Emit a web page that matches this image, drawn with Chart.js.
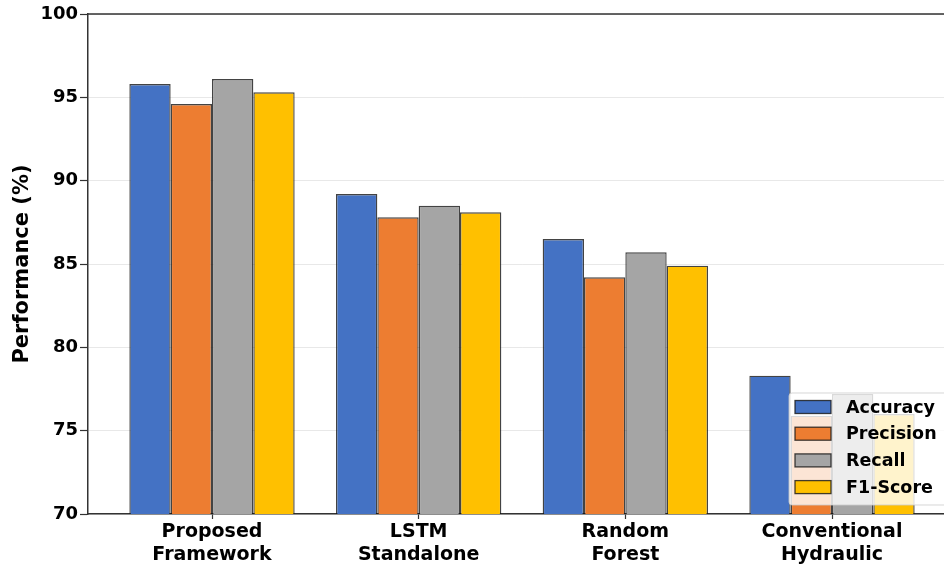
<!DOCTYPE html>
<html>
<head>
<meta charset="utf-8">
<script src="https://cdn.jsdelivr.net/npm/chart.js@4/dist/chart.umd.min.js"></script>
<style>
  html, body { margin: 0; padding: 0; background: #fff; overflow: hidden; }
  #wrap { width: 944px; height: 569px; overflow: hidden; position: relative; }
  canvas { display: block; }
</style>
</head>
<body>
<div id="wrap"><canvas id="c" width="970" height="569"></canvas></div>
<script>
// ---- data ----
const categories = ["Proposed Framework", "LSTM Standalone", "Random Forest", "Conventional Hydraulic"];
const seriesNames = ["Accuracy", "Precision", "Recall", "F1-Score"];
const accuracy  = [95.8, 89.2, 86.5, 78.3];
const precision = [94.6, 87.8, 84.2, 75.9];
const recall    = [96.1, 88.5, 85.7, 77.2];
const f1score   = [95.3, 88.1, 84.9, 76.0];
const yTicks = [70, 75, 80, 85, 90, 95, 100];

const colors = ["#4472C4", "#ED7D31", "#A5A5A5", "#FFC000"];
const FONT = "'DejaVu Sans', sans-serif";
const EDGE = "rgba(20,20,20,0.8)";
const seriesValues = [accuracy, precision, recall, f1score];

const datasets = seriesValues.map((vals, k) => ({
  label: seriesNames[k],
  data: vals.map((v, i) => ({ x: i, y: v })),
  backgroundColor: colors[k],
  borderColor: EDGE,
  borderWidth: 1.4,
  borderSkipped: false,
  categoryPercentage: 0.8,
  barPercentage: 1.0
}));

const framePlugin = {
  id: "frameAndLegend",
  afterDraw(chart) {
    const ctx = chart.ctx;
    const a = chart.chartArea;
    ctx.save();
    // top & right spines
    ctx.strokeStyle = "#333";
    ctx.lineWidth = 1.5;
    ctx.beginPath();
    ctx.moveTo(a.left, a.top);
    ctx.lineTo(a.right, a.top);
    ctx.lineTo(a.right, a.bottom);
    ctx.stroke();

    // legend (lower right, inside axes)
    const w = 158, h = 112;
    const bx = a.right - 9 - w, by = a.bottom - 9 - h;
    ctx.beginPath();
    if (ctx.roundRect) ctx.roundRect(bx, by, w, h, 3); else ctx.rect(bx, by, w, h);
    ctx.fillStyle = "rgba(255,255,255,0.8)";
    ctx.fill();
    ctx.strokeStyle = "rgba(204,204,204,0.8)";
    ctx.lineWidth = 1;
    ctx.stroke();

    ctx.font = "bold 17.5px " + FONT;
    ctx.textBaseline = "middle";
    ctx.textAlign = "left";
    chart.data.datasets.forEach((ds, k) => {
      const cy = by + 14 + k * 26.7;
      ctx.fillStyle = ds.backgroundColor;
      ctx.fillRect(bx + 6, cy - 6.5, 36, 13);
      ctx.strokeStyle = EDGE;
      ctx.lineWidth = 1.3;
      ctx.strokeRect(bx + 6, cy - 6.5, 36, 13);
      ctx.fillStyle = "#000";
      ctx.fillText(ds.label, bx + 57, cy + 1);
    });
    ctx.restore();
  }
};

new Chart(document.getElementById("c"), {
  type: "bar",
  data: { datasets },
  options: {
    responsive: false,
    animation: false,
    devicePixelRatio: 1,
    layout: { padding: { top: 14, right: 14, left: 0, bottom: 0 } },
    plugins: { legend: { display: false }, tooltip: { enabled: false } },
    scales: {
      x: {
        type: "linear",
        offset: false,
        min: -0.6,
        max: 3.6,
        afterBuildTicks: (s) => { s.ticks = categories.map((_, i) => ({ value: i })); },
        afterFit: (s) => { s.height = 55; },
        ticks: {
          autoSkip: false,
          maxRotation: 0,
          padding: 2,
          color: "#000",
          font: { family: FONT, size: 19, weight: "bold", lineHeight: 1.2 },
          callback: (v) => categories[v] ? categories[v].split(" ") : ""
        },
        grid: { offset: false, drawOnChartArea: false, drawTicks: true, tickLength: 5, tickColor: "#333", tickWidth: 1.2 },
        border: { display: true, color: "#333", width: 1.5 }
      },
      y: {
        min: 70,
        max: 100,
        afterBuildTicks: (s) => { s.ticks = yTicks.map(v => ({ value: v })); },
        afterFit: (s) => { s.width = 88; },
        ticks: {
          padding: 2,
          color: "#000",
          font: { family: FONT, size: 18, weight: "bold" }
        },
        grid: { color: "rgba(0,0,0,0.09)", lineWidth: 1, tickLength: 8, tickColor: "#333", tickWidth: 1.2 },
        border: { display: true, color: "#333", width: 1.5 },
        title: {
          display: true,
          text: "Performance (%)",
          color: "#000",
          font: { family: FONT, size: 21, weight: "bold" },
          padding: { top: 10, bottom: 0 }
        }
      }
    }
  },
  plugins: [framePlugin]
});
</script>
</body>
</html>
